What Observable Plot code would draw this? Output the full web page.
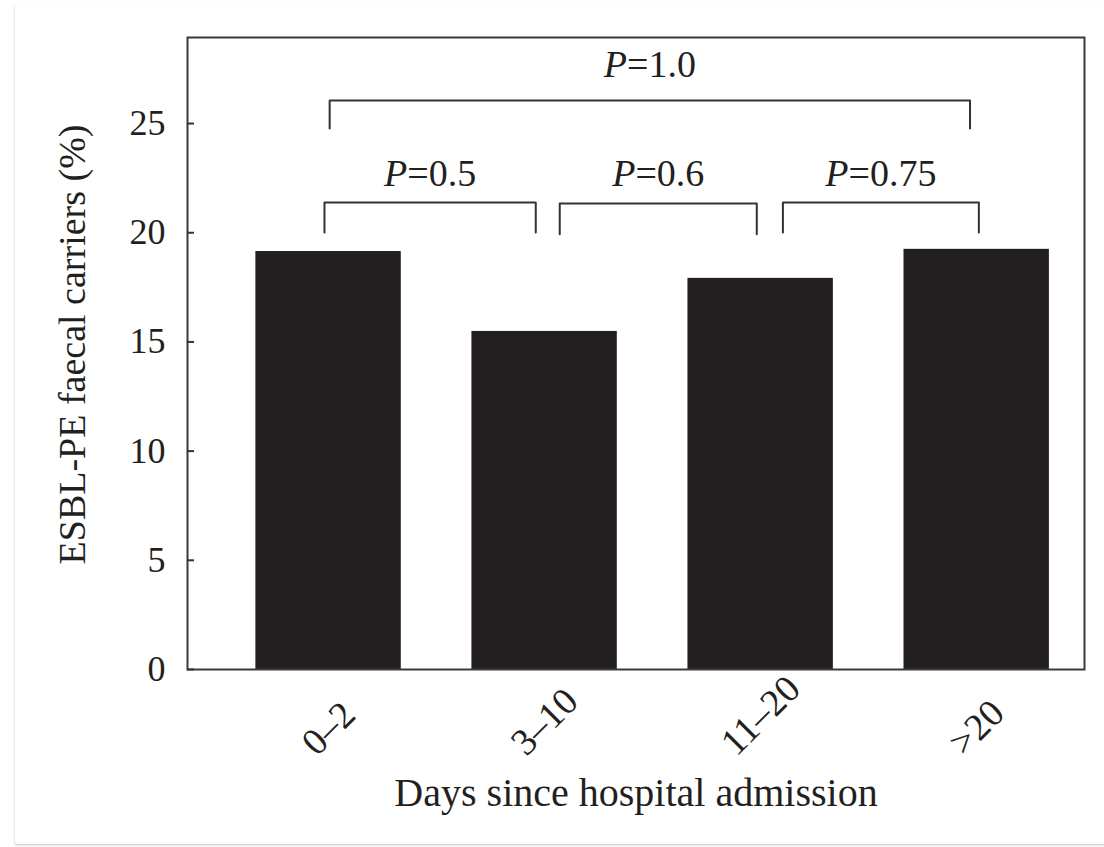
<!DOCTYPE html>
<html><head><meta charset="utf-8">
<script src="https://cdn.jsdelivr.net/npm/d3@7"></script>
<script src="https://cdn.jsdelivr.net/npm/@observablehq/plot@0.6"></script>
<style>
html,body{margin:0;padding:0;background:#fff;overflow:hidden;}
#card{position:absolute;left:15px;top:5px;width:1095px;height:839px;background:#fff;box-shadow:0 1px 2px rgba(0,0,0,0.25);}
#chart{position:absolute;left:0;top:0;}
</style></head><body>
<div id="card"></div><div id="chart"></div>
<script>
// ---- data ----
const categories = ["0–2", "3–10", "11–20", ">20"];
const carriers = [19.14, 15.48, 17.91, 19.24];
const yTicks = [0, 5, 10, 15, 20, 25];
const pValues = ["0.5", "0.6", "0.75", "1.0"];
const bracketX1 = [-0.019, 1.070, 2.103, 0.005];
const bracketX2 = [0.959, 1.982, 3.010, 2.969];
const bracketTop = [21.38, 21.34, 21.38, 26.05];
const bracketFoot = [20.01, 19.93, 20.01, 24.77];
const pLabelY = [22.12, 22.12, 22.12, 27.15];
const xTitle = "Days since hospital admission";
const yTitle = "ESBL-PE faecal carriers (%)";

// ---- derived tables ----
const barWidth = 0.673;
const bars = categories.map((c, i) => ({cat: c, pos: i, value: carriers[i]}));
const bracketPts = pValues.flatMap((p, i) => [
  {b: i, x: bracketX1[i], y: bracketFoot[i]},
  {b: i, x: bracketX1[i], y: bracketTop[i]},
  {b: i, x: bracketX2[i], y: bracketTop[i]},
  {b: i, x: bracketX2[i], y: bracketFoot[i]}
]);
const pLabels = pValues.map((p, i) => ({text: "P=" + p, x: (bracketX1[i] + bracketX2[i]) / 2, y: pLabelY[i]}));

const ink = "#231f20";
const font = "'Liberation Serif', 'Times New Roman', Times, serif";

const svg = Plot.plot({
  width: 1104,
  height: 847,
  marginLeft: 187,
  marginRight: 20,
  marginTop: 37,
  marginBottom: 178,
  x: {domain: [-0.653, 3.499], axis: null},
  y: {domain: [0, 28.94], axis: null},
  style: {fontFamily: font, fontSize: "35px", color: ink, background: "transparent"},
  marks: [
    Plot.rect(bars, {x1: d => d.pos - barWidth / 2, x2: d => d.pos + barWidth / 2, y1: 0, y2: "value", fill: ink}),
    Plot.frame({stroke: "#3a3a3a", strokeWidth: 2}),
    Plot.line(bracketPts, {x: "x", y: "y", z: "b", stroke: "#333", strokeWidth: 2, curve: "linear"}),
    Plot.axisY(yTicks, {tickSize: -7, tickPadding: 29, fontSize: 36, stroke: "#333", strokeWidth: 2, fill: ink, label: null}),
    Plot.text(pLabels, {x: "x", y: "y", text: "text", fontSize: 38, fill: ink, textAnchor: "middle", lineAnchor: "bottom"}),
    Plot.text(bars, {x: "pos", y: 0, text: "cat", rotate: -45, fontSize: 38, fill: ink, textAnchor: "middle", lineAnchor: "middle", dy: 63}),
    Plot.text([xTitle], {frameAnchor: "bottom", dy: 136, lineAnchor: "bottom", fontSize: 40, fill: ink}),
    Plot.text([yTitle], {frameAnchor: "left", rotate: -90, dx: -115, dy: -9, textAnchor: "middle", lineAnchor: "middle", fontSize: 38, fill: ink})
  ]
});
document.getElementById("chart").appendChild(svg);

const root = d3.select(svg);
// italic "P" in the p-value annotations
root.selectAll("text").filter(function() { return /^P=/.test(this.textContent); }).each(function() {
  const t = this.textContent;
  this.textContent = "";
  d3.select(this).append("tspan").attr("font-style", "italic").text(t.slice(0, 1));
  d3.select(this).append("tspan").text(t.slice(1));
});

// align rotated category labels on a common bottom line
const sr = svg.getBoundingClientRect();
root.selectAll("text").filter(function() { return categories.includes(this.textContent); }).each(function() {
  const r = this.getBoundingClientRect();
  const shift = 763 - (r.bottom - sr.top);
  this.setAttribute("transform", `translate(0,${shift}) ` + (this.getAttribute("transform") || ""));
});
</script>
</body></html>
